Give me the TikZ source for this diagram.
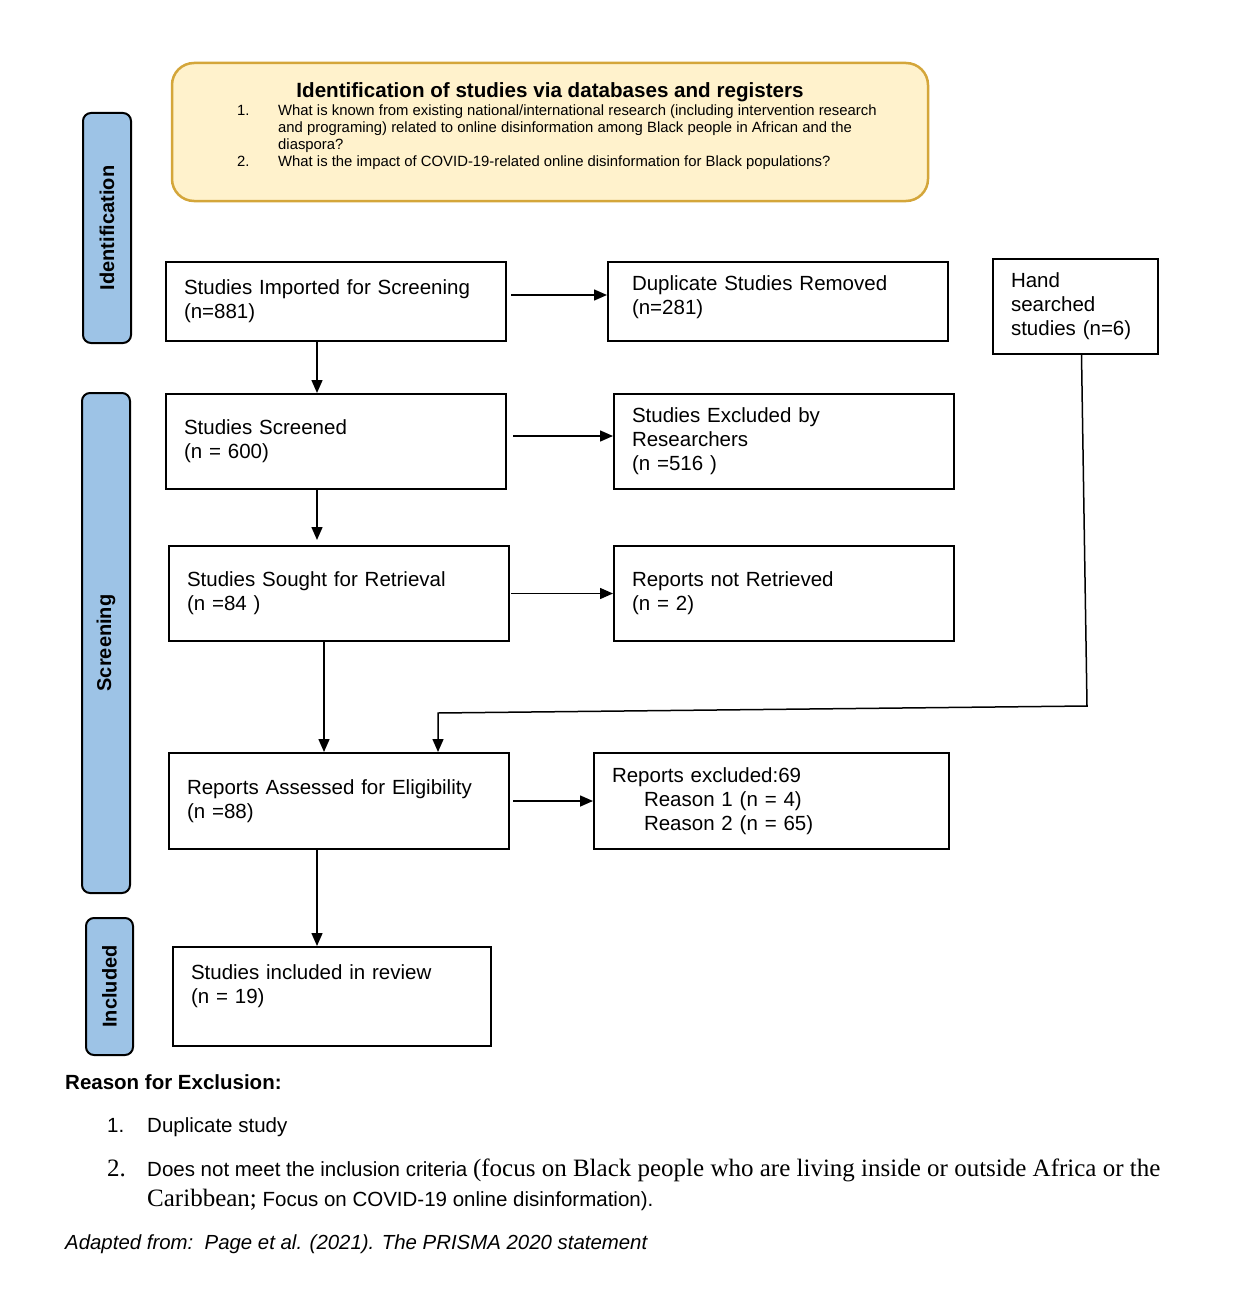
\documentclass[tikz,border=0pt]{standalone}
\usepackage{fontspec}
\setmainfont{Liberation Sans}
\newfontfamily\serifpart{Liberation Serif}
\usepackage{xcolor}
\usepackage{tikz}
\usetikzlibrary{calc,arrows.meta}
\definecolor{noteyellow}{HTML}{FFF2CC}
\definecolor{notegold}{HTML}{D4A63A}
\definecolor{stageblue}{HTML}{9DC3E6}
\newcommand{\bigserif}{\serifpart\fontsize{25}{30}\selectfont}

\begin{document}
\begin{tikzpicture}[x=1pt, y=-1pt,
  box/.style={draw=black, line width=2pt, anchor=north west, inner xsep=18pt,
    inner ysep=0pt, align=left, font=\fontsize{20.5}{24}\selectfont},
  stage/.style={draw=black, line width=2pt, fill=stageblue, rounded corners=8pt,
    rotate=90, inner sep=0pt, font=\bfseries\fontsize{20}{24}\selectfont},
  topbox/.style={draw=notegold, line width=2.5pt, fill=noteyellow, rounded corners=22pt},
  plain/.style={anchor=base west, inner sep=0pt, font=\fontsize{20.5}{24}\selectfont},
  arr/.style={line width=1.5pt, -{Triangle[length=13pt,width=11pt]}}]
  \useasboundingbox (0,0) rectangle (1234,1311);

  % question box
  \node[topbox, minimum width=756pt, minimum height=138pt] (idbox) at (550,132) {};
  \node[anchor=base, inner sep=0pt, font=\bfseries\fontsize{20.6}{24}\selectfont] (idtitle) at (550,98)
    {Identification of studies via databases and registers};
  \node[anchor=base west, inner sep=0pt, font=\fontsize{14.85}{17}\selectfont] (idlist) at (237,116)
    {\begin{tabular}[t]{@{}p{41pt}@{}l@{}}
      1. & What is known from existing national/international research (including intervention research\\
         & and programing) related to online disinformation among Black people in African and the\\
         & diaspora?\\
      2. & What is the impact of COVID-19-related online disinformation for Black populations?
    \end{tabular}};

  % stages
  \node[stage, minimum width=230pt, minimum height=48pt] (stident) at (107,228) {Identification};
  \node[stage, minimum width=500pt, minimum height=48pt] (stscreen) at (106,643) {Screening};
  \node[stage, minimum width=137pt, minimum height=47pt] (stincl) at (109.5,986.5) {Included};

  % flow boxes
  \node[box, minimum width=340pt, minimum height=79pt, text width=304pt] (imp) at (165,261)
    {Studies Imported for Screening\\(n=881)};
  \node[box, minimum width=340pt, minimum height=79pt, inner xsep=24pt, text width=292pt] (dup) at (607,261)
    {Duplicate Studies Removed\\(n=281)\\[-12pt]\mbox{}};
  \node[box, minimum width=165pt, minimum height=95pt, text width=129pt] (hand) at (992,258)
    {Hand\\searched\\studies (n=6)};
  \node[box, minimum width=340pt, minimum height=95pt, text width=304pt] (scr) at (165,393)
    {Studies Screened\\(n = 600)};
  \node[box, minimum width=340pt, minimum height=95pt, text width=304pt] (exc) at (613,393)
    {Studies Excluded by\\Researchers\\(n =516 )};
  \node[box, minimum width=340pt, minimum height=95pt, text width=304pt] (sought) at (168,545)
    {Studies Sought for Retrieval\\(n =84 )};
  \node[box, minimum width=340pt, minimum height=95pt, text width=304pt] (notret) at (613,545)
    {Reports not Retrieved\\(n = 2)};
  \node[box, minimum width=340pt, minimum height=96pt, text width=304pt] (ass) at (168,752)
    {Reports Assessed for Eligibility\\(n =88)};
  \node[box, minimum width=355pt, minimum height=96pt, text width=319pt] (repexc) at (593,752)
    {Reports excluded:69\\\hspace*{32pt}Reason 1 (n = 4)\\\hspace*{32pt}Reason 2 (n = 65)};
  \node[box, minimum width=318pt, minimum height=99pt, text width=282pt] (incl) at (172,946)
    {Studies included in review\\(n = 19)\\\mbox{}};

  % connectors
  \coordinate (impright) at ([yshift=6.5pt]imp.east);
  \coordinate (scrright) at ([yshift=5.5pt]scr.east);
  \draw[arr, shorten <=4pt] (impright) -- (impright -| dup.west);
  \draw[arr, shorten <=6pt] (scrright) -- (scrright -| exc.west);
  \draw[arr, shorten <=1pt] (sought.east) -- (notret.west);
  \draw[arr, shorten <=3pt] (ass.east) -- (repexc.west);
  \coordinate (impout) at ([xshift=152pt]imp.south west);
  \coordinate (scrout) at ([xshift=152pt]scr.south west);
  \coordinate (soughtout) at ([xshift=156pt]sought.south west);
  \coordinate (assout) at ([xshift=149pt]ass.south west);
  \draw[arr] (impout) -- (impout |- scr.north);
  \draw[arr, shorten >=5pt] (scrout) -- (scrout |- sought.north);
  \draw[arr] (soughtout) -- (soughtout |- ass.north);
  \draw[arr] (assout) -- (assout |- incl.north);
  \coordinate (handout) at ([xshift=6pt]hand.south);
  \coordinate (handbend) at (1087,706);
  \coordinate (handjoin) at (438,713);
  \draw[arr] (handout) -- (handbend) -- (handjoin) -- (handjoin |- ass.north);

  % notes below
  \node[plain, font=\bfseries\fontsize{20.5}{24}\selectfont] (rtitle) at (65,1089) {Reason for Exclusion:};
  \node[plain] (r1num) at (107,1132) {1.};
  \node[plain] (r1) at (147,1132) {Duplicate study};
  \node[plain, font=\bigserif] (r2num) at (107,1176) {2.};
  \node[plain] (r2a) at (147,1176) {Does not meet the inclusion criteria {\bigserif(focus on Black people who are living inside or outside Africa or the}};
  \node[plain] (r2b) at (147,1206) {{\bigserif Caribbean;} Focus on COVID-19 online disinformation).};
  \node[plain, font=\itshape\fontsize{20.4}{24}\selectfont] (adapted) at (65,1249)
    {Adapted from:\ \ Page et al. (2021). The PRISMA 2020 statement};
\end{tikzpicture}
\end{document}
